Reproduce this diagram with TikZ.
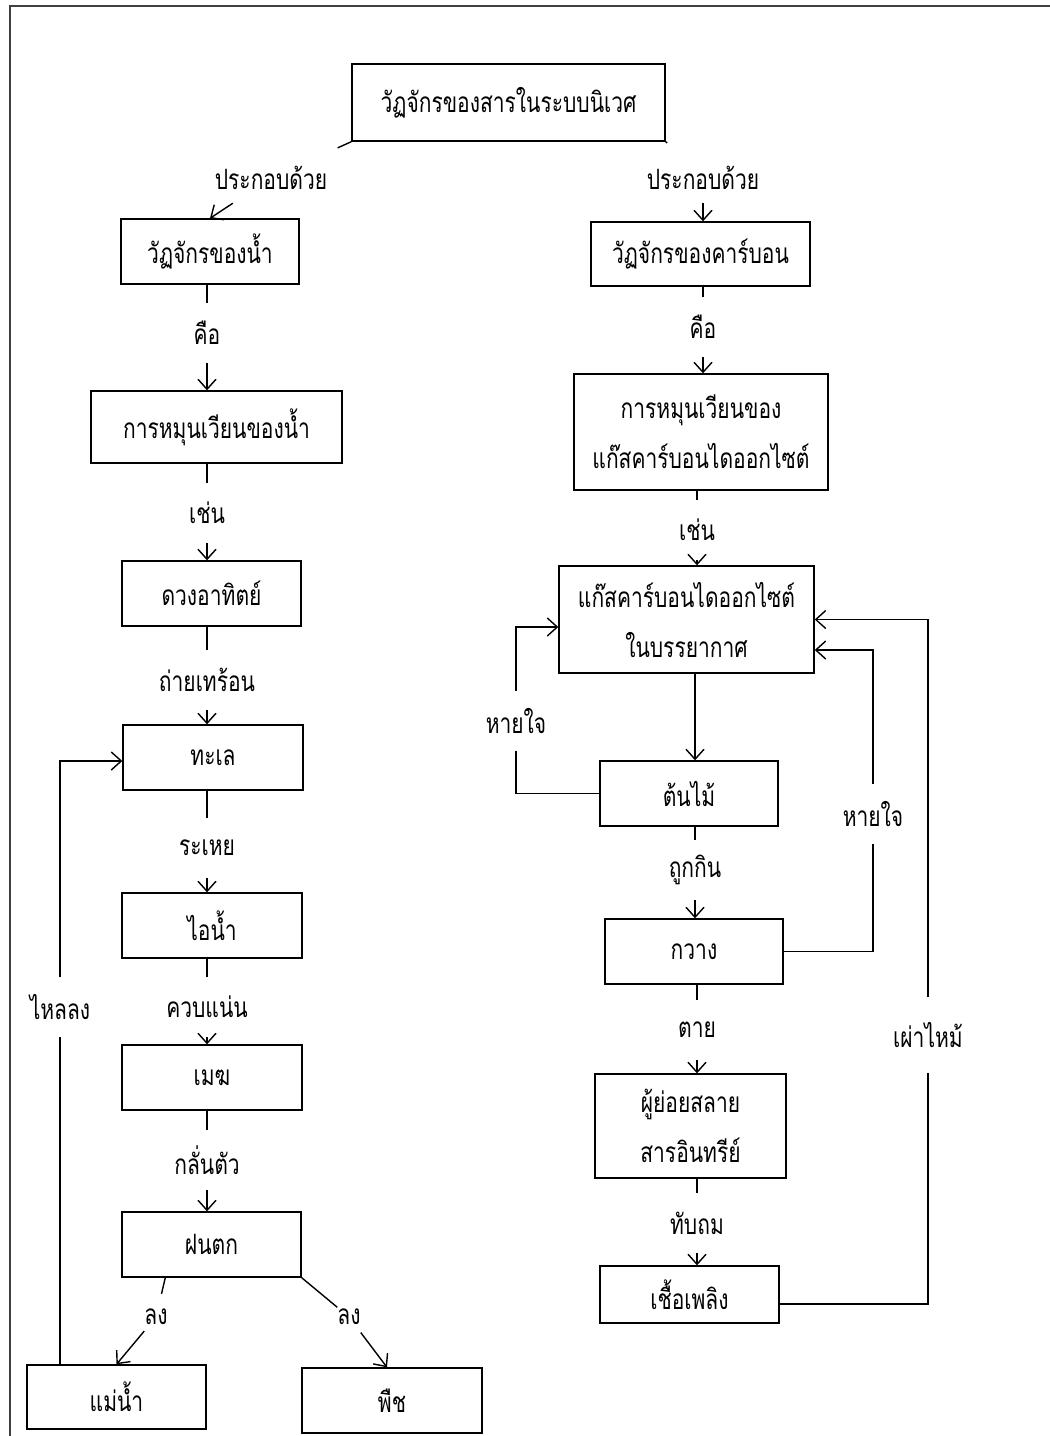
\documentclass[tikz,border=0pt]{standalone}
\usepackage{fontspec}
\newfontfamily\thai[Script=Thai,FakeStretch=0.75]{Loma}
\usetikzlibrary{arrows.meta}
\begin{document}
\begin{tikzpicture}[x=1pt,y=-1pt,
  box/.style={draw, line width=1.4pt, inner sep=0pt, align=center, font=\thai\fontsize{28}{50}\selectfont},
  lbl/.style={inner sep=0pt, minimum height=60pt, font=\thai\fontsize{28}{30}\selectfont},
  conn/.style={line width=1.4pt},
  arr/.style={line width=1.4pt, -{Straight Barb[length=10pt,width=18pt]}}]
\useasboundingbox (0,0) rectangle (1050,1436);
\fill[white] (0,0) rectangle (1050,1436);
\draw[line width=2pt, black!75] (10,1436) -- (10,6) -- (1050,6);

% boxes
\node[box, minimum width=313pt, minimum height=77pt] (top) at (508.5,102.5) {วัฏจักรของสารในระบบนิเวศ};
\node[box, minimum width=178pt, minimum height=65pt] (water) at (210,251.5) {วัฏจักรของน้ำ};
\node[box, minimum width=219pt, minimum height=64pt] (carbon) at (700.5,254) {วัฏจักรของคาร์บอน};
\node[box, minimum width=251pt, minimum height=72pt] (wcirc) at (216.5,427) {การหมุนเวียนของน้ำ};
\node[box, minimum width=179pt, minimum height=65pt] (sun) at (211.5,593.5) {ดวงอาทิตย์};
\node[box, minimum width=180pt, minimum height=65pt] (sea) at (213,757.5) {ทะเล};
\node[box, minimum width=180pt, minimum height=65pt] (vapor) at (212,925.5) {ไอน้ำ};
\node[box, minimum width=180pt, minimum height=65pt] (cloud) at (212,1077.5) {เมฆ};
\node[box, minimum width=179pt, minimum height=65pt] (rain) at (211.5,1244.5) {ฝนตก};
\node[box, minimum width=179pt, minimum height=64pt] (river) at (116.5,1397) {แม่น้ำ};
\node[box, minimum width=180pt, minimum height=65pt] (plant) at (392,1400.5) {พืช};
\node[box, minimum width=254pt, minimum height=116pt] (ccirc) at (701,432) {การหมุนเวียนของ\\แก๊สคาร์บอนไดออกไซต์};
\node[box, minimum width=255pt, minimum height=107pt] (gas) at (686.5,619.5) {แก๊สคาร์บอนไดออกไซต์\\ในบรรยากาศ};
\node[box, minimum width=178pt, minimum height=65pt] (tree) at (689,793.5) {ต้นไม้};
\node[box, minimum width=178pt, minimum height=65pt] (deer) at (694,951.5) {กวาง};
\node[box, minimum width=191pt, minimum height=104pt] (decomp) at (690.5,1126) {ผู้ย่อยสลาย\\สารอินทรีย์};
\node[box, minimum width=179pt, minimum height=57pt] (fuel) at (689.5,1294.5) {เชื้อเพลิง};

% top split
\node[lbl, minimum height=50pt] (p1) at (271,178) {ประกอบด้วย};
\draw[conn, shorten >=12pt] (top.south west) -- (p1);
\draw[arr] (p1) -- (water.north);
\node[lbl, minimum height=50pt] (p2) at (703,178) {ประกอบด้วย};
\draw[conn, shorten >=14pt] (top.south east) -- (p2);
\draw[arr] (p2) -- (p2 |- carbon.north);

% left column
\node[lbl] (k1) at (207,333) {คือ};
\draw[conn] (water.south -| k1) -- (k1);
\draw[arr] (k1) -- (k1 |- wcirc.north);
\node[lbl] (k2) at (207,513) {เช่น};
\draw[conn] (wcirc.south -| k2) -- (k2);
\draw[arr] (k2) -- (k2 |- sun.north);
\node[lbl] (k3) at (207,680) {ถ่ายเทร้อน};
\draw[conn] (sun.south -| k3) -- (k3);
\draw[arr] (k3) -- (k3 |- sea.north);
\node[lbl] (k4) at (207,848) {ระเหย};
\draw[conn] (sea.south -| k4) -- (k4);
\draw[arr] (k4) -- (k4 |- vapor.north);
\node[lbl] (k5) at (207,1007) {ควบแน่น};
\draw[conn] (vapor.south -| k5) -- (k5);
\draw[arr] (k5) -- (k5 |- cloud.north);
\node[lbl] (k6) at (207,1160) {กลั่นตัว};
\draw[conn] (cloud.south -| k6) -- (k6);
\draw[arr] (k6) -- (k6 |- rain.north);

% rain split
\node[lbl, minimum height=46pt] (d1) at (156,1317) {ลง};
\draw[conn] ([xshift=44pt]rain.south west) -- (d1);
\draw[arr] (d1) -- (river.north);
\node[lbl, minimum height=46pt] (d2) at (349,1317) {ลง};
\draw[conn] (rain.south east) -- (d2);
\draw[arr] (d2) -- ([xshift=-5pt]plant.north);

% flow back to sea
\node[lbl] (f1) at (60,1007) {ไหลลง};
\draw[conn] (river.north -| f1) -- (f1);
\draw[arr] (f1) |- ([yshift=-3.5pt]sea.west);

% right column
\node[lbl] (r1) at (703,327) {คือ};
\draw[conn] (carbon.south -| r1) -- (r1);
\draw[arr] (r1) -- (r1 |- ccirc.north);
\node[lbl] (r2) at (697,530) {เช่น};
\draw[conn] (ccirc.south -| r2) -- (r2);
\draw[arr] (r2) -- (r2 |- gas.north);
\node[lbl] (r3) at (695,870) {ถูกกิน};
\draw[arr] (gas.south -| r3) -- (tree.north -| r3);
\draw[conn] (tree.south -| r3) -- (r3);
\draw[arr] (r3) -- (r3 |- deer.north);
\node[lbl] (r4) at (697,1030) {ตาย};
\draw[conn] (deer.south -| r4) -- (r4);
\draw[arr] (r4) -- (r4 |- decomp.north);
\node[lbl] (r5) at (697,1223) {ทับถม};
\draw[conn] (decomp.south -| r5) -- (r5);
\draw[arr] (r5) -- (r5 |- fuel.north);

% loops
\node[lbl] (h1) at (516,721) {หายใจ};
\draw[conn] (tree.west) -| (h1);
\draw[arr] (h1) |- ([yshift=-7.5pt]gas.west);
\node[lbl] (h2) at (873,814) {หายใจ};
\draw[conn] (deer.east) -| (h2);
\draw[arr] (h2) |- ([yshift=-30.5pt]gas.east);
\node[lbl, minimum height=75pt] (b1) at (928,1035) {เผ่าไหม้};
\draw[conn] ([yshift=-9.5pt]fuel.east) -| (b1);
\draw[arr] (b1) |- (gas.east);
\end{tikzpicture}
\end{document}
